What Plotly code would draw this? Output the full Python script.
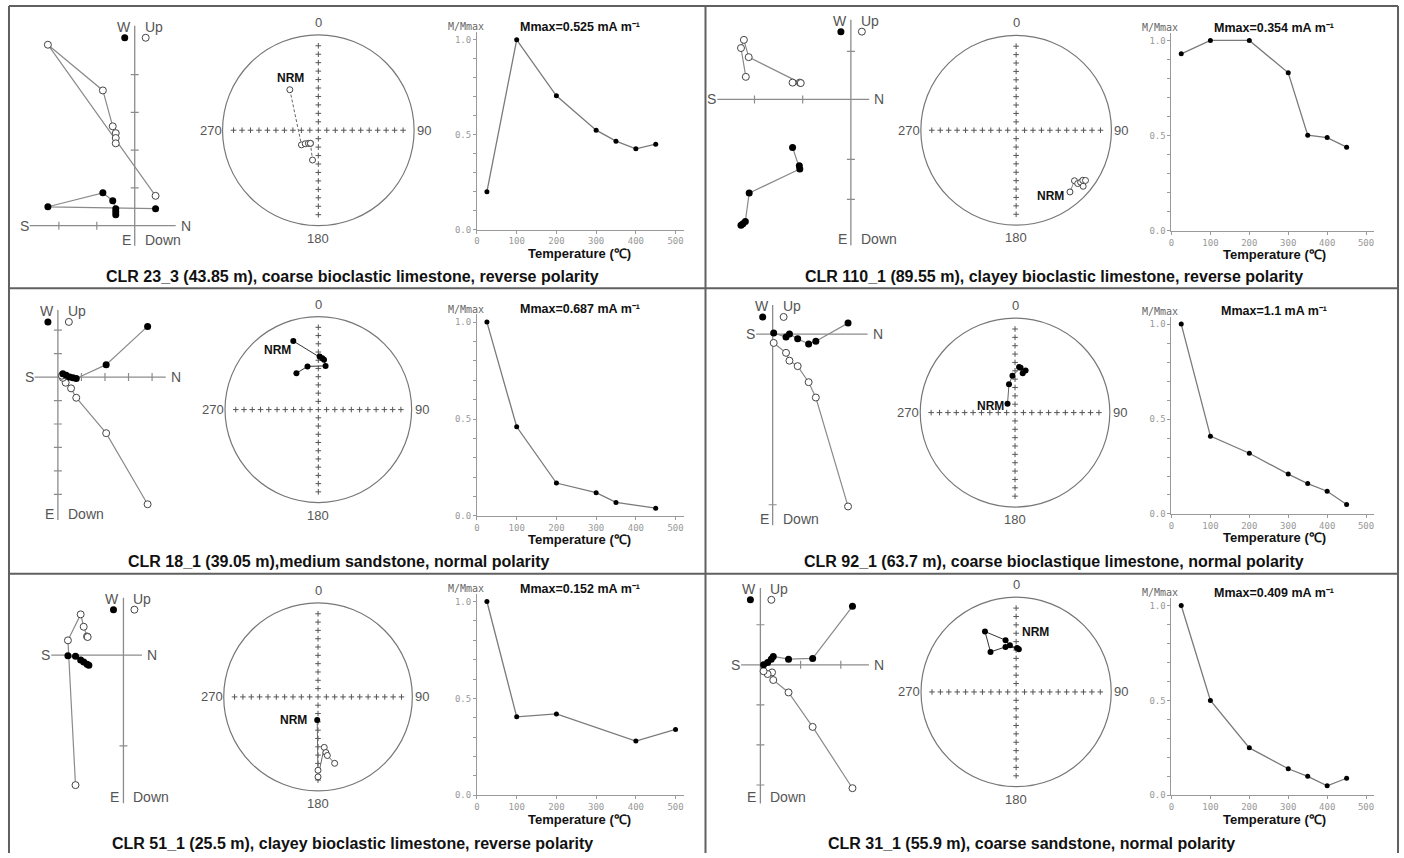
import math
import plotly.graph_objects as go

W, H = 1404, 858

# ---------------- DATA ----------------
captions = [
    "CLR 23_3 (43.85 m), coarse bioclastic limestone, reverse polarity",
    "CLR 110_1 (89.55 m), clayey bioclastic limestone, reverse polarity",
    "CLR 18_1 (39.05 m),medium sandstone, normal polarity",
    "CLR 92_1 (63.7 m), coarse bioclastique limestone, normal polarity",
    "CLR 51_1 (25.5 m), clayey bioclastic limestone, reverse polarity",
    "CLR 31_1 (55.9 m), coarse sandstone, normal polarity",
]
mmax_labels = ["0.525", "0.354", "0.687", "1.1", "0.152", "0.409"]

# Zijderveld: horizontal projection (filled) and vertical projection (open), tick units
zij1_h_x = [0.55, -2.29, -0.84, -0.58, -0.5, -0.5, -0.5]
zij1_h_y = [0.45, 0.5, 0.87, 0.66, 0.45, 0.37, 0.29]
zij1_v_x = [0.55, -2.29, -0.84, -0.58, -0.5, -0.5, -0.5]
zij1_v_y = [0.79, 4.79, 3.58, 2.63, 2.45, 2.32, 2.18]

zij2_h_x = [-1.21, -1.07, -1.06, -2.11, -2.19, -2.24, -2.28]
zij2_h_y = [-1.0, -1.38, -1.45, -1.95, -2.54, -2.59, -2.62]
zij2_v_x = [-1.21, -1.06, -1.04, -2.12, -2.22, -2.28, -2.18]
zij2_v_y = [0.35, 0.35, 0.34, 0.88, 1.24, 1.07, 0.47]

zij3_h_x = [3.81, 2.05, 0.78, 0.64, 0.5, 0.35, 0.21]
zij3_h_y = [2.16, 0.53, -0.06, -0.03, 0.0, 0.08, 0.14]
zij3_v_x = [3.81, 2.05, 0.78, 0.56, 0.33, 0.21, 0.17]
zij3_v_y = [-5.42, -2.39, -0.88, -0.48, -0.24, -0.03, 0.06]

zij4_h_x = [2.2, 1.26, 1.05, 0.73, 0.49, 0.39, 0.03]
zij4_h_y = [0.32, -0.21, -0.29, -0.14, 0.0, -0.09, 0.03]
zij4_v_x = [2.2, 1.26, 1.05, 0.73, 0.49, 0.39, 0.03]
zij4_v_y = [-5.05, -1.86, -1.41, -0.94, -0.78, -0.55, -0.26]

zij5_h_x = [-1.58, -1.83, -1.41, -1.31, -1.2, -1.14]
zij5_h_y = [-0.04, -0.02, -0.16, -0.23, -0.3, -0.33]
zij5_v_x = [-1.58, -1.83, -1.41, -1.31, -1.2, -1.18]
zij5_v_y = [-4.3, 0.49, 1.35, 0.94, 0.62, 0.6]

zij6_h_x = [2.29, 1.3, 0.7, 0.32, 0.27, 0.18, 0.08]
zij6_h_y = [1.46, 0.16, 0.14, 0.21, 0.14, 0.06, 0.0]
zij6_v_x = [2.29, 1.3, 0.7, 0.32, 0.29, 0.18, 0.08]
zij6_v_y = [-3.08, -1.55, -0.69, -0.38, -0.19, -0.23, -0.16]

# Stereonet directions (declination, inclination in degrees)
st1_dec = [325, 229, 224, 217, 211, 211, 191]
st1_inc = [-47, -71, -74, -76, -77, -77, -64]
st2_dec = [139, 131, 131, 129, 130, 127, 126]
st2_inc = [-15, -20, -15.5, -14, -9, -13.5, -11]
st3_dec = [340, 1.4, 4.4, 6.5, 9.4, 346, 329]
st3_inc = [22.6, 42.4, 43.8, 45.2, 50.6, 50.4, 52.4]
st4_dec = [320, 348, 356, 7, 11, 14, 5]
st4_inc = [80, 65, 58, 50.5, 55, 52, 50]
st5_dec = [182, 180, 180, 173, 172, 171, 166]
st5_inc = [70, -23, -16, -45, -40, -37, -28]
st6_dec = [3.6, 352.4, 348.5, 332.8, 327.5, 346.8, 1.2]
st6_inc = [52.7, 48.8, 43.6, 29.1, 48.5, 49.6, 51.8]

# Demagnetisation curves
temp1 = [25, 100, 200, 300, 350, 400, 450]
mag1 = [0.2, 1.0, 0.705, 0.524, 0.466, 0.426, 0.45]
temp2 = [25, 100, 200, 300, 350, 400, 450]
mag2 = [0.93, 1.0, 1.0, 0.83, 0.503, 0.49, 0.44]
temp3 = [25, 100, 200, 300, 350, 450]
mag3 = [1.0, 0.46, 0.17, 0.12, 0.07, 0.04]
temp4 = [25, 100, 200, 300, 350, 400, 450]
mag4 = [1.0, 0.41, 0.32, 0.21, 0.16, 0.12, 0.05]
temp5 = [25, 100, 200, 400, 500]
mag5 = [1.0, 0.405, 0.42, 0.28, 0.34]
temp6 = [25, 100, 200, 300, 350, 400, 450]
mag6 = [1.0, 0.5, 0.25, 0.14, 0.1, 0.05, 0.09]

temp_ticks = [0, 100, 200, 300, 400, 500]
mag_ticks = [0.0, 0.5, 1.0]
mag_tick_text = ["0.0", "0.5", "1.0"]

# ---------------- LAYOUT CONFIG (pixel positions) ----------------
zij_cfg = [
    dict(o=(132, 227), u=38, h=(-2.77, 1.08), v=(-0.53, 5.29), ht=[-2, -1], vt=[1, 2, 3, 4]),
    dict(o=(849.7, 100), u=48.3, h=(-2.77, 0.38), v=(-3.04, 1.66), ht=[-2, -1], vt=[1, -1.25, -2.08]),
    dict(o=(55, 379.3), u=23.6, h=(-0.99, 4.58), v=(-6.09, 2.86), ht=[1, 2, 3, 4], vt=[2, 1, -1, -2, -3, -4, -5]),
    dict(o=(771.3, 336), u=34.34, h=(-0.48, 2.77), v=(-5.6, 0.85), ht=[], vt=[-5]),
    dict(o=(120.7, 659), u=30.4, h=(-2.38, 0.61), v=(-4.9, 1.9), ht=[], vt=[-3]),
    dict(o=(759, 668.7), u=40.3, h=(-0.48, 2.7), v=(-3.46, 1.92), ht=[1, 2], vt=[1, -1, -2, -3]),
]
st_cfg = [
    dict(c=(316, 131, 96), dash="3px,2px", lc="#666", nrm=("center", 1, -12)),
    dict(c=(1015.3, 131, 95.5), dash="solid", lc="#888", nrm=("right", -4, 4)),
    dict(c=(316, 412, 93.5), dash="solid", lc="#333", nrm=("center", -16, 9)),
    dict(c=(1014.2, 415, 95), dash="solid", lc="#666", nrm=("right", -2, 2)),
    dict(c=(315.7, 701, 94.5), dash="solid", lc="#666", nrm=("right", -8, 0)),
    dict(c=(1015.3, 696, 95.3), dash="solid", lc="#333", nrm=("left", 1, -17)),
]
dm_cfg = [
    dict(x0=475, s=39.8, y0=231, y1=40),
    dict(x0=1171, s=39, y0=232.3, y1=40.7),
    dict(x0=475, s=39.8, y0=519, y1=324),
    dict(x0=1171, s=39, y0=517, y1=326),
    dict(x0=475, s=39.8, y0=800, y1=605),
    dict(x0=1171, s=39, y0=800, y1=609),
]
caption_pos = [(350, 278), (1053, 278), (337, 565), (1053, 565), (350, 848), (1031, 848)]

zij_data = [
    (zij1_h_x, zij1_h_y, zij1_v_x, zij1_v_y),
    (zij2_h_x, zij2_h_y, zij2_v_x, zij2_v_y),
    (zij3_h_x, zij3_h_y, zij3_v_x, zij3_v_y),
    (zij4_h_x, zij4_h_y, zij4_v_x, zij4_v_y),
    (zij5_h_x, zij5_h_y, zij5_v_x, zij5_v_y),
    (zij6_h_x, zij6_h_y, zij6_v_x, zij6_v_y),
]
st_data = [(st1_dec, st1_inc), (st2_dec, st2_inc), (st3_dec, st3_inc),
           (st4_dec, st4_inc), (st5_dec, st5_inc), (st6_dec, st6_inc)]
dm_data = [(temp1, mag1), (temp2, mag2), (temp3, mag3),
           (temp4, mag4), (temp5, mag5), (temp6, mag6)]

# ---------------- BUILD ----------------
traces, shapes, annos = [], [], []
axes = {}
count = [0]
SANS = "Liberation Sans, Arial, sans-serif"
GRAY = "#555"


def px(x):
    return x / W


def py(y):
    return 1 - y / H


def new_axes(x0, x1, y0, y1, xr, yr):
    """pixel box (x0..x1 left-right, y0..y1 top-bottom) -> data ranges xr, yr; clamped to page."""
    xr = list(xr)
    yr = list(yr)
    sx = (xr[1] - xr[0]) / (x1 - x0)
    if x0 < 0:
        xr[0] += (0 - x0) * sx
        x0 = 0
    if x1 > W:
        xr[1] -= (x1 - W) * sx
        x1 = W
    sy = (yr[1] - yr[0]) / (y1 - y0)
    if y0 < 0:
        yr[1] -= (0 - y0) * sy
        y0 = 0
    if y1 > H:
        yr[0] += (y1 - H) * sy
        y1 = H
    count[0] += 1
    i = count[0]
    s = "" if i == 1 else str(i)
    axes["xaxis" + s] = dict(domain=[px(x0), px(x1)], range=xr, anchor="y" + s,
                             visible=False, fixedrange=True, showgrid=False, zeroline=False)
    axes["yaxis" + s] = dict(domain=[py(y1), py(y0)], range=yr, anchor="x" + s,
                             visible=False, fixedrange=True, showgrid=False, zeroline=False)
    return "x" + s, "y" + s


def ann(x, y, text, size=12, color=GRAY, xref="paper", yref="paper", xanchor="center",
        yanchor="middle", bold=False, xshift=0, yshift=0, family=SANS):
    if bold:
        text = "<b>" + text + "</b>"
    annos.append(dict(x=x, y=y, xref=xref, yref=yref, text=text, showarrow=False,
                      xanchor=xanchor, yanchor=yanchor, xshift=xshift, yshift=yshift,
                      font=dict(size=size, color=color, family=family)))


def zijderveld(cfg, hx, hy, vx, vy):
    ox, oy = cfg["o"]
    u = cfg["u"]
    hmin, hmax = cfg["h"]
    vmin, vmax = cfg["v"]
    bx0, bx1 = ox + (hmin - 1.0) * u, ox + (hmax + 1.0) * u
    by0, by1 = oy - (vmax + 1.0) * u, oy - (vmin - 1.0) * u
    xa, ya = new_axes(bx0, bx1, by0, by1, ((bx0 - ox) / u, (bx1 - ox) / u),
                      ((oy - by1) / u, (oy - by0) / u))
    ac = "#8c8c8c"
    traces.append(go.Scatter(x=[hmin, hmax, None, 0, 0], y=[0, 0, None, vmin, vmax], mode="lines",
                             line=dict(color=ac, width=1.3), xaxis=xa, yaxis=ya, hoverinfo="skip"))
    t = 4.0 / u
    tx, ty = [], []
    for v in cfg["ht"]:
        tx += [v, v, None]
        ty += [-t, t, None]
    for v in cfg["vt"]:
        tx += [-t, t, None]
        ty += [v, v, None]
    if tx:
        traces.append(go.Scatter(x=tx, y=ty, mode="lines", line=dict(color=ac, width=1.2),
                                 xaxis=xa, yaxis=ya, hoverinfo="skip"))
    traces.append(go.Scatter(x=vx, y=vy, mode="lines+markers", cliponaxis=False,
                             line=dict(color="#8a8a8a", width=1.2),
                             marker=dict(symbol="circle", size=7, color="white",
                                         line=dict(color="#444", width=1)),
                             xaxis=xa, yaxis=ya, hoverinfo="skip"))
    traces.append(go.Scatter(x=hx, y=hy, mode="lines+markers", cliponaxis=False,
                             line=dict(color="#8a8a8a", width=1.2),
                             marker=dict(symbol="circle", size=7, color="black"),
                             xaxis=xa, yaxis=ya, hoverinfo="skip"))
    # legend symbols under W / Up
    traces.append(go.Scatter(x=[-10 / u], y=[vmax - 12 / u], mode="markers",
                             marker=dict(size=7, color="black"), xaxis=xa, yaxis=ya, hoverinfo="skip"))
    traces.append(go.Scatter(x=[11 / u], y=[vmax - 12 / u], mode="markers",
                             marker=dict(size=7, color="white", line=dict(color="#444", width=1)),
                             xaxis=xa, yaxis=ya, hoverinfo="skip"))
    fs = 14
    ann(0, vmax, "W", fs, xref=xa, yref=ya, xanchor="right", xshift=-2, yshift=-1)
    ann(0, vmax, "Up", fs, xref=xa, yref=ya, xanchor="left", xshift=8, yshift=-1)
    ann(hmin, 0, "S", fs, xref=xa, yref=ya, xanchor="right", xshift=1)
    ann(hmax, 0, "N", fs, xref=xa, yref=ya, xanchor="left", xshift=3)
    ann(0, vmin, "E", fs, xref=xa, yref=ya, xanchor="right", xshift=-2, yshift=6)
    ann(0, vmin, "Down", fs, xref=xa, yref=ya, xanchor="left", xshift=8, yshift=6)


def project(dec, inc):
    xs, ys = [], []
    for d, i in zip(dec, inc):
        r = math.sqrt(2) * math.sin(math.radians(90 - abs(i)) / 2)
        xs.append(r * math.sin(math.radians(d)))
        ys.append(r * math.cos(math.radians(d)))
    return xs, ys


def stereonet(cfg, dec, inc):
    cx, cy, r = cfg["c"]
    k = 1.3
    xa, ya = new_axes(cx - k * r, cx + k * r, cy - k * r, cy + k * r, (-k, k), (-k, k))
    shapes.append(dict(type="circle", xref=xa, yref=ya, x0=-1, y0=-1, x1=1, y1=1,
                       line=dict(color="#777", width=1.2)))
    n = 11.3
    cxs, cys = [0], [0]
    for i in range(1, 11):
        for sx, sy in ((1, 0), (-1, 0), (0, 1), (0, -1)):
            cxs.append(sx * i / n)
            cys.append(sy * i / n)
    traces.append(go.Scatter(x=cxs, y=cys, mode="markers",
                             marker=dict(symbol="cross-thin", size=4, line=dict(color="#555", width=1)),
                             xaxis=xa, yaxis=ya, hoverinfo="skip"))
    xs, ys = project(dec, inc)
    traces.append(go.Scatter(x=xs, y=ys, mode="lines", line=dict(color=cfg["lc"], width=1, dash=cfg["dash"]),
                             xaxis=xa, yaxis=ya, hoverinfo="skip"))
    fx = [x for x, i in zip(xs, inc) if i >= 0]
    fy = [y for y, i in zip(ys, inc) if i >= 0]
    ox_ = [x for x, i in zip(xs, inc) if i < 0]
    oy_ = [y for y, i in zip(ys, inc) if i < 0]
    if ox_:
        traces.append(go.Scatter(x=ox_, y=oy_, mode="markers",
                                 marker=dict(size=6, color="white", line=dict(color="#444", width=1)),
                                 xaxis=xa, yaxis=ya, hoverinfo="skip"))
    if fx:
        traces.append(go.Scatter(x=fx, y=fy, mode="markers", marker=dict(size=6, color="black"),
                                 xaxis=xa, yaxis=ya, hoverinfo="skip"))
    fs = 13
    ann(0, 1, "0", fs, xref=xa, yref=ya, yanchor="bottom", yshift=3)
    ann(0, -1, "180", fs, xref=xa, yref=ya, yanchor="top", yshift=-3)
    ann(-1, 0, "270", fs, xref=xa, yref=ya, xanchor="right", xshift=1)
    ann(1, 0, "90", fs, xref=xa, yref=ya, xanchor="left", xshift=1)
    anc, dx, dy = cfg["nrm"]
    ann(xs[0], ys[0], "NRM", 12, color="#111", xref=xa, yref=ya, xanchor=anc, bold=True,
        xshift=dx, yshift=-dy)


def demag(cfg, T, M, mmax):
    x0, s, y0, y1 = cfg["x0"], cfg["s"], cfg["y0"], cfg["y1"]
    xr = (0, 520)
    yr = (0, 1.04)
    xa, ya = new_axes(x0, x0 + 5.2 * s, y0 - 1.04 * (y0 - y1), y0, xr, yr)
    tf = dict(size=9, color="#999", family="DejaVu Sans Mono, monospace")
    axes["xaxis" + xa[1:]].update(visible=True, showline=True, linecolor="#9a9a9a", linewidth=1,
                                  ticks="outside", ticklen=3, tickcolor="#9a9a9a",
                                  tickvals=temp_ticks, tickfont=tf)
    axes["yaxis" + ya[1:]].update(visible=True, showline=True, linecolor="#9a9a9a", linewidth=1,
                                  ticks="outside", ticklen=3, tickcolor="#9a9a9a",
                                  tickvals=mag_ticks, ticktext=mag_tick_text, tickfont=tf,
                                  minor=dict(ticks="outside", ticklen=3, dtick=0.1, tickcolor="#9a9a9a",
                                             showgrid=False))
    traces.append(go.Scatter(x=T, y=M, mode="lines+markers", cliponaxis=False,
                             line=dict(color="#7a7a7a", width=1.3),
                             marker=dict(size=5, color="black"), xaxis=xa, yaxis=ya, hoverinfo="skip"))
    ann(px(x0 + 9), py(y1 - 13), "M/Mmax", 10, color="#666", xanchor="right",
        family="DejaVu Sans Mono, monospace")
    ann(px(x0 + 103), py(y1 - 13), "Mmax=" + mmax + " mA m\u207b\u00b9", 12.5, color="#111", bold=True)
    ann(px(x0 + 103), py(y0 + 24), "Temperature (\u2103)", 13, color="#111", bold=True)


for p in range(6):
    zijderveld(zij_cfg[p], *zij_data[p])
    stereonet(st_cfg[p], *st_data[p])
    demag(dm_cfg[p], *dm_data[p], mmax_labels[p])
    cx, cy = caption_pos[p]
    ann(px(cx), py(cy), captions[p], 16, color="#111", bold=True)

# frame
fc = "#606060"
for (x0, y0, x1, y1) in [(6, 6, 1398, 6), (6, 6, 6, 858), (1398, 6, 1398, 858),
                         (704, 6, 704, 858), (6, 290, 1398, 290), (6, 577, 1398, 577)]:
    shapes.append(dict(type="line", xref="paper", yref="paper", x0=px(x0), y0=py(y0),
                       x1=px(x1), y1=py(y1), line=dict(color=fc, width=2)))

fig = go.Figure(data=traces)
fig.update_layout(width=W, height=H, margin=dict(l=0, r=0, t=0, b=0), paper_bgcolor="white",
                  plot_bgcolor="rgba(0,0,0,0)", showlegend=False, shapes=shapes, annotations=annos,
                  **axes)
fig.write_html("out.html")
